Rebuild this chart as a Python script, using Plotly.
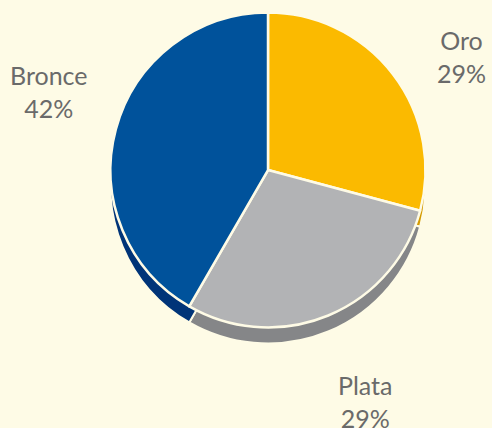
import plotly.graph_objects as go

# Data
labels = ["Oro", "Plata", "Bronce"]
values = [7, 7, 10]

top_colors = ["#FBBA00", "#B2B3B5", "#00529B"]
side_colors = ["#D49A00", "#858688", "#003478"]

W, H = 492, 428
bg = "#FEFBE6"

# pie placement in pixels (center x, center y, radius) and depth of the 3D side
cx, cy, r = 268, 170, 157.5
depth = 16


def dom(x0, x1, y0, y1):
    return dict(x=[x0 / W, x1 / W], y=[1 - y1 / H, 1 - y0 / H])


fig = go.Figure()

# shadow / side of the pie
fig.add_trace(go.Pie(
    labels=labels, values=values,
    sort=False, direction="clockwise", rotation=0,
    marker=dict(colors=side_colors, line=dict(color=bg, width=2)),
    textinfo="none", hoverinfo="skip", showlegend=False,
    domain=dom(cx - r, cx + r, cy - r + depth, cy + r + depth),
))

# top of the pie
fig.add_trace(go.Pie(
    labels=labels, values=values,
    sort=False, direction="clockwise", rotation=0,
    marker=dict(colors=top_colors, line=dict(color=bg, width=2.5)),
    textinfo="none", showlegend=False,
    hovertemplate="%{label}: %{percent}<extra></extra>",
    domain=dom(cx - r, cx + r, cy - r, cy + r),
))

# outside labels
label_pos = [(461, 57), (365, 401), (49, 91)]
total = sum(values)
for lab, v, (lx, ly) in zip(labels, values, label_pos):
    fig.add_annotation(
        x=lx / W, y=1 - ly / H, xref="paper", yref="paper",
        text=f"{lab}<br>{round(100 * v / total)}%",
        showarrow=False, xanchor="center", yanchor="middle", align="center",
        font=dict(family="Lato", size=25, color="#6a6a6a"),
    )

fig.update_layout(
    width=W, height=H,
    margin=dict(l=0, r=0, t=0, b=0),
    paper_bgcolor=bg, plot_bgcolor=bg,
)

fig.write_html(
    "out.html",
    config={"displayModeBar": False},
    post_script="document.body.style.margin='0';document.body.style.background='%s';" % bg,
)
